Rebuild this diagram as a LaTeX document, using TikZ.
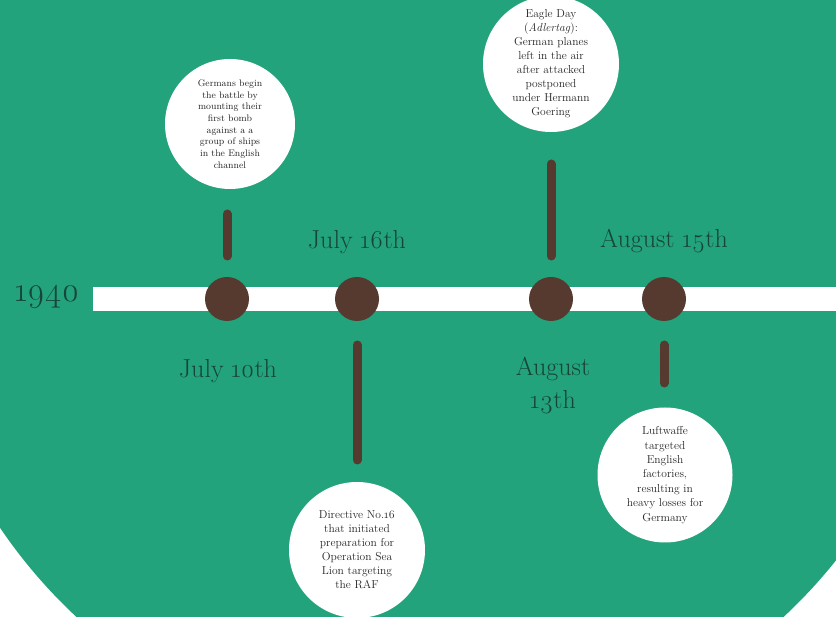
\documentclass[tikz,border=0pt]{standalone}
\usepackage{fontspec}
\setmainfont{Latin Modern Roman}[Numbers=OldStyle]
\begin{document}
\begin{tikzpicture}[x=1pt,y=-1pt]
\definecolor{bg}{HTML}{23A37B}
\definecolor{brn}{HTML}{563A2F}
\definecolor{txt}{HTML}{174536}
\definecolor{btxt}{HTML}{262626}
\tikzset{
  dot/.style={circle,fill=brn,minimum size=44pt,inner sep=0pt},
  stem/.style={draw=brn,line width=9pt,line cap=round},
  bubble/.style={circle,fill=white,inner sep=0pt,align=center,text=btxt},
  datelabel/.style={text=txt,font=\fontsize{26}{33}\selectfont,align=center,inner sep=0pt},
}
\useasboundingbox (0,0) rectangle (836,617);
\fill[white] (0,0) rectangle (836,617);
\begin{scope}
  \clip (0,0) rectangle (836,617);
  \fill[bg] (430,237) circle (519pt);
\end{scope}
% timeline bar
\fill[white] (93,287) rectangle (836,311);
\node[text=txt,font=\fontsize{34}{40}\selectfont,inner sep=0pt] (year) at (47,297) {1940};
% dots
\node[dot] (d1) at (227,299) {};
\node[dot] (d2) at (357,299) {};
\node[dot] (d3) at (551,299) {};
\node[dot] (d4) at (664,299) {};
% stems
\coordinate (s1a) at (227,214); \coordinate (s1b) at (227,256);
\coordinate (s2a) at (357,345); \coordinate (s2b) at (357,460);
\coordinate (s3a) at (551,164); \coordinate (s3b) at (551,256);
\coordinate (s4a) at (664,345); \coordinate (s4b) at (664,383);
\draw[stem] (s1a) -- (s1b);
\draw[stem] (s2a) -- (s2b);
\draw[stem] (s3a) -- (s3b);
\draw[stem] (s4a) -- (s4b);
% date labels
\node[datelabel] (l1) at (228,371) {July 10th};
\node[datelabel] (l2) at (357,242) {July 16th};
\node[datelabel] (l3) at (553,386) {August\\13th};
\node[datelabel] (l4) at (664,241) {August 15th};
% bubbles
\node[bubble,minimum size=130pt,font=\fontsize{9.5}{11.7}\selectfont] (b1) at (230,124)
  {Germans begin\\the battle by\\mounting their\\first bomb\\against a a\\group of ships\\in the English\\channel};
\node[bubble,minimum size=136pt,font=\fontsize{11.5}{14}\selectfont] (b3) at (551,64)
  {Eagle Day\\(\textit{Adlertag}):\\German planes\\left in the air\\after attacked\\postponed\\under Hermann\\Goering};
\node[bubble,minimum size=135pt,font=\fontsize{11.5}{14.4}\selectfont] (b4) at (665,475)
  {Luftwaffe\\targeted\\English\\factories,\\resulting in\\heavy losses for\\Germany};
\node[bubble,minimum size=136pt,font=\fontsize{11.5}{14}\selectfont] (b2) at (357,550)
  {Directive No.16\\that initiated\\preparation for\\Operation Sea\\Lion targeting\\the RAF};
\end{tikzpicture}
\end{document}
